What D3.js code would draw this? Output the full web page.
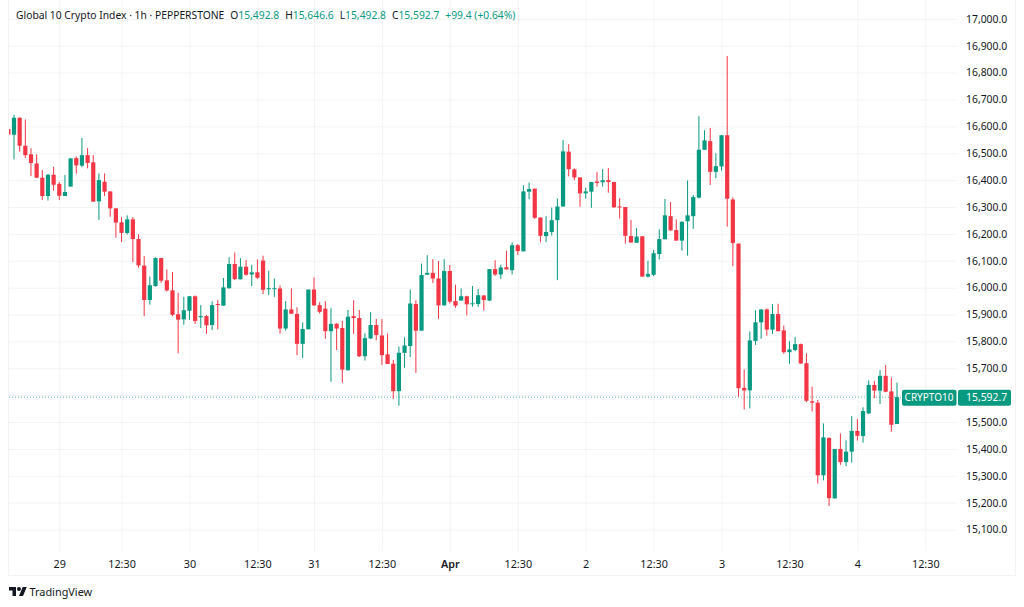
<!DOCTYPE html>
<html>
<head>
<meta charset="utf-8">
<script src="https://cdn.jsdelivr.net/npm/d3@7"></script>
<style>
  html, body { margin: 0; padding: 0; background: #fff; overflow: hidden; }
  text { font-family: "Noto Sans", sans-serif; }
</style>
</head>
<body>
<div id="chart"></div>
<script>
// hourly candles
const open = [16590,16569,16632,16528,16496,16462,16409,16341,16420,16386,16341,16376,16482,16454,16493,16466,16321,16394,16358,16295,16243,16203,16254,16181,16082,15954,16006,16110,16027,15990,15901,15882,15914,15968,15890,15894,15861,15939,15933,15998,16088,16031,16078,16049,16057,16101,15995,15995,15997,15848,15919,15902,15791,15845,15993,15935,15922,15838,15866,15850,15693,15894,15887,15745,15811,15861,15822,15752,15717,15615,15757,15783,15939,15840,16048,16055,16034,15934,16062,15950,15952,15968,15939,15939,15971,15952,16069,16049,16076,16065,16158,16135,16357,16368,16261,16192,16207,16251,16302,16506,16440,16410,16351,16357,16395,16392,16400,16393,16302,16300,16192,16167,16191,16041,16048,16125,16180,16266,16214,16175,16247,16266,16335,16513,16545,16431,16451,16567,16328,16164,15627,15618,15802,15871,15919,15844,15902,15841,15760,15768,15790,15719,15577,15572,15302,15441,15216,15400,15351,15390,15467,15448,15532,15638,15617,15672,15614,15492.8];
const high = [16590,16643,16634,16626,16519,16496,16438,16423,16450,16393,16419,16482,16488,16557,16519,16493,16425,16425,16359,16296,16263,16269,16263,16199,16118,16041,16113,16111,16068,16058,15981,15966,15969,15971,15935,15898,15949,15954,16036,16113,16131,16110,16103,16085,16105,16119,16063,16034,16008,15950,15997,15927,15871,15993,16038,15946,15950,15924,15867,15876,15917,15953,15917,15830,15909,15884,15883,15830,15731,15781,15815,15993,15953,16090,16121,16106,16099,16106,16084,16011,15997,15970,16006,15995,15972,16069,16102,16085,16138,16168,16162,16381,16391,16369,16261,16266,16298,16332,16549,16534,16444,16410,16372,16393,16430,16441,16445,16394,16333,16300,16252,16222,16192,16100,16140,16217,16330,16319,16254,16247,16399,16345,16638,16586,16594,16500,16567,16862,16336,16164,15696,15837,15916,15919,15923,15939,15940,15859,15801,15816,15792,15756,15632,15582,15495,15443,15400,15458,15432,15522,15511,15555,15655,15653,15694,15712,15666,15646.6];
const low = [16569,16477,16506,16483,16415,16409,16326,16324,16361,16326,16341,16376,16424,16448,16444,16320,16252,16341,16264,16186,16170,16198,16095,16074,15894,15937,16004,16018,15986,15894,15756,15862,15880,15865,15850,15828,15842,15845,15933,15996,16028,16031,16044,16006,16033,15976,15972,15966,15829,15840,15903,15749,15738,15845,15933,15904,15810,15650,15768,15646,15691,15827,15742,15729,15809,15804,15712,15716,15586,15561,15702,15742,15683,15840,16048,16017,15884,15934,15941,15925,15952,15897,15929,15929,15915,15950,16044,16032,16068,16049,16122,16135,16329,16256,16169,16169,16194,16028,16301,16414,16400,16301,16331,16297,16376,16376,16353,16297,16257,16164,16167,16167,16041,16038,16043,16105,16180,16212,16175,16138,16119,16219,16332,16513,16382,16407,16435,16227,16080,15594,15547,15551,15787,15810,15821,15828,15838,15754,15717,15763,15717,15574,15539,15271,15283,15188,15216,15341,15336,15349,15431,15423,15530,15589,15567,15611,15464,15492.8];
const close = [16569,16632,16528,16493,16464,16409,16341,16420,16383,16342,16356,16481,16455,16493,16464,16320,16400,16357,16295,16242,16204,16254,16181,16083,15954,16009,16110,16026,15990,15899,15881,15916,15968,15876,15894,15860,15935,15937,16001,16088,16032,16078,16048,16057,16037,15992,15998,15998,15848,15919,15903,15791,15846,15993,15934,15910,15838,15865,15848,15695,15892,15887,15745,15812,15861,15824,15749,15716,15615,15758,15785,15941,15840,16047,16055,16034,15934,16062,15948,15933,15968,15938,15942,15972,15954,16069,16049,16075,16068,16158,16136,16358,16367,16260,16193,16207,16251,16302,16507,16441,16410,16351,16358,16393,16390,16400,16393,16299,16300,16193,16168,16190,16041,16051,16128,16181,16269,16213,16175,16245,16269,16337,16513,16548,16431,16452,16567,16331,16166,15626,15618,15804,15871,15919,15844,15902,15838,15760,15770,15790,15718,15579,15572,15302,15443,15217,15400,15351,15390,15467,15449,15541,15638,15617,15672,15613,15490,15592.7];

const priceTicks = [15100,15200,15300,15400,15500,15600,15700,15800,15900,16000,16100,16200,16300,16400,16500,16600,16700,16800,16900,17000];
const timeTickBars = [9,20,32,44,54,66,78,90,102,114,126,138,150,162];
const timeTickLabels = ["29","12:30","30","12:30","31","12:30","Apr","12:30","2","12:30","3","12:30","4","12:30"];

const lastPrice = 15592.7;
const hiddenPriceTick = 15600; // sits behind the price tag
const upColor = "#089981";
const downColor = "#F23645";
const gridColor = "#f3f3f3";
const textColor = "#131722";

const width = 1024, height = 607;
const pane = { left: 8, right: 957, top: 0, bottom: 551, frameBottom: 575 };

const svg = d3.select("#chart").append("svg")
    .attr("width", width)
    .attr("height", height)
    .style("display", "block");

// scales
const x = d3.scaleLinear().domain([0, 157]).range([8.34, 897]);
const y = d3.scaleLinear().domain([15200, 15700]).range([502.7, 368.3]);

// frame
svg.append("path")
    .attr("d", `M${pane.left + 0.5},0V${pane.frameBottom + 0.5}H1015.5V0`)
    .attr("fill", "none")
    .attr("stroke", "#f3f3f3");

// clip candles to the pane so the first one is cut like the original
svg.append("clipPath").attr("id", "pane-clip").append("rect")
    .attr("x", pane.left + 1).attr("y", 0)
    .attr("width", pane.right - pane.left - 1).attr("height", pane.bottom);

// axes, their tick lines double as the grid
const xAxis = d3.axisBottom(x)
    .tickValues(timeTickBars)
    .tickFormat((d, i) => timeTickLabels[i])
    .tickSize(-pane.bottom)
    .tickPadding(9);

const gx = svg.append("g")
    .attr("transform", `translate(0,${pane.bottom})`)
    .call(xAxis);
gx.select(".domain").remove();
gx.selectAll(".tick line").attr("stroke", gridColor);
gx.selectAll(".tick text")
    .attr("fill", textColor)
    .attr("font-size", 10.8)
    .attr("font-weight", d => timeTickLabels[timeTickBars.indexOf(d)] === "Apr" ? 600 : 400);

const yAxis = d3.axisRight(y)
    .tickValues(priceTicks)
    .tickFormat(d => d === hiddenPriceTick ? "" : d3.format(",.1f")(d))
    .tickSize(pane.right - pane.left - 1)
    .tickPadding(9);

const gy = svg.append("g")
    .attr("transform", `translate(${pane.left + 1},0)`)
    .call(yAxis);
gy.select(".domain").remove();
gy.selectAll(".tick line").attr("stroke", gridColor);
gy.selectAll(".tick text")
    .attr("fill", textColor)
    .attr("font-size", 10.4);

// last price line
svg.append("line")
    .attr("x1", pane.left + 1)
    .attr("x2", 902)
    .attr("y1", y(lastPrice))
    .attr("y2", y(lastPrice))
    .attr("stroke", upColor)
    .attr("stroke-width", 1)
    .attr("stroke-dasharray", "1 2")
    .attr("opacity", 0.7);

// candles
const candles = svg.append("g").attr("clip-path", "url(#pane-clip)")
    .selectAll("g")
    .data(d3.range(open.length))
    .join("g")
    .attr("fill", i => close[i] >= open[i] ? upColor : downColor);

candles.append("rect")
    .attr("x", i => x(i) - 0.5)
    .attr("width", 1)
    .attr("y", i => y(high[i]))
    .attr("height", i => y(low[i]) - y(high[i]));

candles.append("rect")
    .attr("x", i => x(i) - 2.1)
    .attr("width", 4.2)
    .attr("y", i => y(Math.max(open[i], close[i])))
    .attr("height", i => Math.max(1, Math.abs(y(open[i]) - y(close[i]))));

// price tag on the axis
const tagY = y(lastPrice) + 0.7;
const tag = svg.append("g");
tag.append("rect")
    .attr("x", 902).attr("y", tagY - 8).attr("width", 54.5).attr("height", 16).attr("rx", 2)
    .attr("fill", upColor);
tag.append("rect")
    .attr("x", 958).attr("y", tagY - 8).attr("width", 53).attr("height", 16).attr("rx", 2)
    .attr("fill", upColor);
tag.append("text")
    .attr("x", 929).attr("y", tagY).attr("dy", "0.35em")
    .attr("text-anchor", "middle").attr("fill", "#fff").attr("font-size", 10)
    .text("CRYPTO10");
tag.append("text")
    .attr("x", 966).attr("y", tagY).attr("dy", "0.35em")
    .attr("fill", "#fff").attr("font-size", 10.4)
    .text("15,592.7");

// header line
const header = svg.append("text")
    .attr("x", 16).attr("y", 19)
    .attr("font-size", 10.3)
    .attr("fill", textColor)
    .attr("xml:space", "preserve");
header.append("tspan").text("Global 10 Crypto Index · 1h · PEPPERSTONE");
[["O", "15,492.8"], ["H", "15,646.6"], ["L", "15,492.8"], ["C", "15,592.7"]].forEach(p => {
    header.append("tspan").attr("dx", 6).text(p[0]);
    header.append("tspan").attr("fill", upColor).text(p[1]);
});
header.append("tspan").attr("dx", 6).attr("fill", upColor).text("+99.4 (+0.64%)");

// TradingView mark
const logo = svg.append("g").attr("transform", "translate(9,585) scale(0.5)").attr("fill", textColor);
logo.append("path").attr("d", "M14 22H7V11H0V4h14v18zM28 22h-8l7.5-18h8L28 22z");
logo.append("circle").attr("cx", 20).attr("cy", 8).attr("r", 4);
svg.append("text")
    .attr("x", 29.5).attr("y", 595.5)
    .attr("font-size", 10.9)
    .attr("fill", textColor)
    .text("TradingView");
</script>
</body>
</html>
